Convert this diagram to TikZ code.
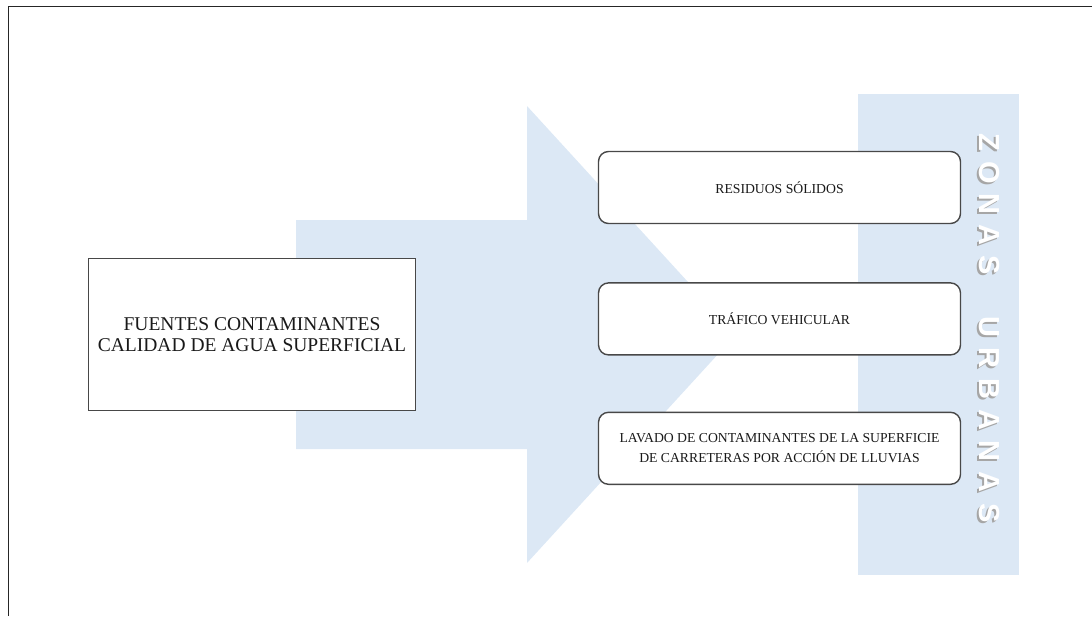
\documentclass[tikz,border=0pt]{standalone}
\usepackage{fontspec}
\setmainfont{Liberation Serif}
\newfontfamily\bandfont{Liberation Sans}
\usetikzlibrary{positioning}
\definecolor{bandblue}{RGB}{220,232,245}
\definecolor{boxgray}{RGB}{72,72,72}
\tikzset{
  srcbox/.style={draw=boxgray, line width=1.4pt, fill=white, align=center,
    minimum width=327pt, minimum height=152pt,
    font=\fontsize{19.5}{21.5}\selectfont, text=black!90},
  itembox/.style={draw=boxgray, line width=1.4pt, fill=white, align=center,
    rounded corners=10pt, minimum width=362pt, minimum height=72pt,
    font=\fontsize{13.7}{20}\selectfont, text=black!90},
  bandletter/.style={inner sep=0pt, rotate=-90,
    font=\bandfont\bfseries\fontsize{29}{29}\selectfont}
}
\newcommand\BandLetters[3]{
  % #1 = x of the letters, #2 = y of the first one, #3 = pitch
  \foreach \c/\k in {Z/0,O/1,N/2,A/3,S/4,U/6,R/7,B/8,A/9,N/10,A/11,S/12}
  {
    \node[bandletter, text=gray!70] (zs\k) at (#1-2,#2+#3*\k+2) {\c};
    \node[bandletter, text=white] (zl\k) at (#1,#2+#3*\k) {\c};
  }
}

\begin{document}
\begin{tikzpicture}[x=1pt, y=-1pt]
\useasboundingbox (0,0) rectangle (1092,616);
\draw[line width=1pt, black!85] (8.5,616) |- (1092,6.5);

% big arrow and the band behind the boxes
\fill[bandblue] (296,220) -- (527,220) -- (527,106) -- (736,334.5)
  -- (527,563) -- (527,449) -- (296,449) -- cycle;
\fill[bandblue] (858,94) rectangle (1019,575);
\BandLetters{989}{142}{30.9}

\node[srcbox] (fuentes) at (252,334.5)
  {FUENTES CONTAMINANTES\\CALIDAD DE AGUA SUPERFICIAL};

\node[itembox] (residuos) at (779.5,187.5) {RESIDUOS SÓLIDOS};
\node[itembox, below=58pt of residuos] (trafico) {TRÁFICO VEHICULAR};
\node[itembox, below=56pt of trafico] (lavado)
  {LAVADO DE CONTAMINANTES DE LA SUPERFICIE\\DE CARRETERAS POR ACCIÓN DE LLUVIAS};
\end{tikzpicture}
\end{document}
